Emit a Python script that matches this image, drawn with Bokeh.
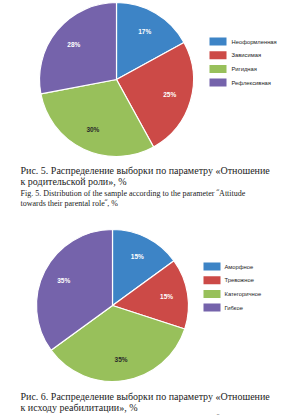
import math
from bokeh.plotting import figure
from bokeh.models import Range1d, ColumnDataSource
from bokeh.core.properties import value
from bokeh.embed import file_html
from bokeh.resources import INLINE

W, H = 296, 415

# ---- data ----
labels1 = ["Неоформленная", "Зависимая", "Ригидная", "Рефлексивная"]
values1 = [17, 25, 30, 28]
labels2 = ["Аморфное", "Тревожное", "Категоричное", "Гибкое"]
values2 = [15, 15, 35, 35]
colors = ["#3D84C6", "#CC4A47", "#98C05B", "#7563AB"]
text_colors = ["#FFFFFF", "#FFFFFF", "#2A2A2A", "#FFFFFF"]

caption1 = ["Рис. 5. Распределение выборки по параметру «Отношение",
            "к родительской роли», %"]
caption1_en = ["Fig. 5. Distribution of the sample according to the parameter \u02ddAttitude",
               "towards their parental role\u02dd, %"]
caption2 = ["Рис. 6. Распределение выборки по параметру «Отношение",
            "к исходу реабилитации», %"]
caption2_en = ["Fig. 6. Distribution of the sample according to the parameter \u02ddAttitude"]

p = figure(width=W, height=H, x_range=Range1d(0, W), y_range=Range1d(0, H),
           x_axis_type=None, y_axis_type=None, toolbar_location=None,
           output_backend="svg", min_border=0, outline_line_color=None)
p.grid.visible = False
p.background_fill_color = "white"
p.border_fill_color = "white"


def Y(ys):
    return H - ys


def pie(cx, cy, r, labels, values, lx, ly0, dy, tx):
    total = float(sum(values))
    starts, ends, mids = [], [], []
    cum = 0.0
    for v in values:
        a0 = math.pi / 2 - 2 * math.pi * cum / total
        cum += v
        a1 = math.pi / 2 - 2 * math.pi * cum / total
        starts.append(a0)
        ends.append(a1)
        mids.append((a0 + a1) / 2)
    src = ColumnDataSource(dict(start=starts, end=ends, color=colors))
    p.wedge(x=cx, y=Y(cy), radius=r, start_angle="start", end_angle="end",
            direction="clock", fill_color="color", line_color="white",
            line_width=1.2, source=src)
    lr = 0.72 * r
    p.text(x=[cx + lr * math.cos(m) for m in mids],
           y=[Y(cy) + lr * math.sin(m) for m in mids],
           text=[f"{v}%" for v in values], text_color=text_colors,
           text_font=value("Liberation Sans"), text_font_size="6.5px",
           text_font_style="bold", text_align="center", text_baseline="middle")
    ys = [ly0 + i * dy for i in range(len(labels))]
    p.rect(x=[lx + 8.5] * len(labels), y=[Y(y) for y in ys], width=17, height=8,
           fill_color=colors, line_color=None)
    p.text(x=[tx] * len(labels), y=[Y(y) for y in ys], text=labels,
           text_color="#222222", text_font=value("Liberation Sans"),
           text_font_size="5.8px", text_align="left", text_baseline="middle")


pie(116, 79, 77, labels1, values1, 209, 41, 13.7, 231)
pie(112, 305, 76, labels2, values2, 203, 266, 13.7, 224)


def caption(lines_ru, lines_en, y_ru, y_en):
    p.text(x=[20] * len(lines_ru), y=[Y(y) for y in y_ru], text=lines_ru,
           text_color="#222222", text_font=value("Liberation Serif"),
           text_font_size="10px", text_align="left", text_baseline="middle")
    p.text(x=[20] * len(lines_en), y=[Y(y) for y in y_en], text=lines_en,
           text_color="#222222", text_font=value("Liberation Serif"),
           text_font_size="8px", text_align="left", text_baseline="middle")


caption(caption1, caption1_en, [169.5, 180.5], [192.5, 203])
caption(caption2, caption2_en, [396, 407], [418])

open("out.html", "w").write(file_html(p, INLINE))
